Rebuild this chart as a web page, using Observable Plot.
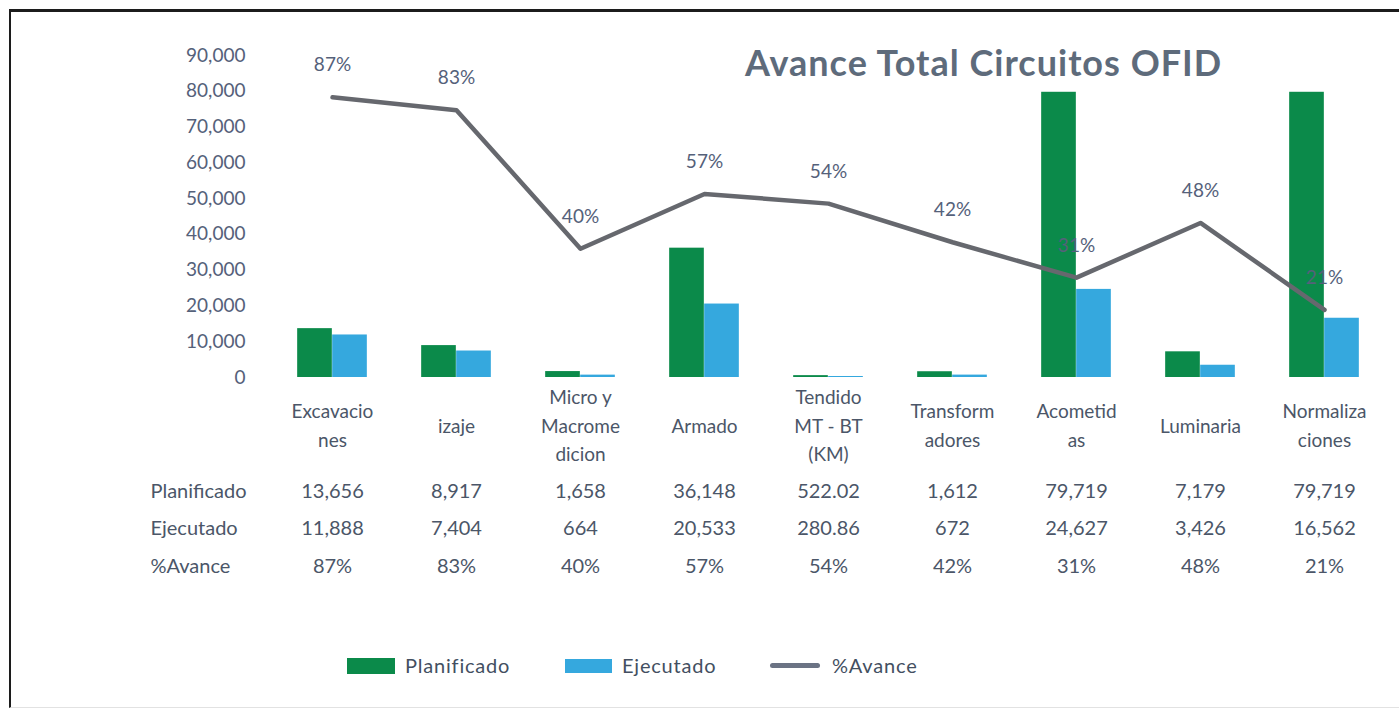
<!DOCTYPE html>
<html><head><meta charset="utf-8">
<script src="https://cdn.jsdelivr.net/npm/d3@7"></script>
<script src="https://cdn.jsdelivr.net/npm/@observablehq/plot@0.6"></script>
<style>
body{margin:0;background:#fff;font-family:Lato,"Open Sans",sans-serif;}
#wrap{position:relative;width:1399px;height:708px;overflow:hidden;background:#fff;}
#frame{position:absolute;left:9px;top:9px;width:1400px;height:695px;border-top:3px solid #1c1c1c;border-left:2px solid #1c1c1c;border-bottom:1px solid #e2e2e2;pointer-events:none;}
#chart{position:absolute;left:0;top:0;}
#title{position:absolute;left:745px;top:40px;font-size:36px;font-weight:700;letter-spacing:1px;color:#5e6b7b;white-space:nowrap;}
.lg{position:absolute;font-size:20px;letter-spacing:0.8px;color:#434f61;line-height:22px;top:654px;}
.sw{position:absolute;}
</style></head>
<body>
<div id="wrap">
  <div id="chart"></div>
  <div id="title">Avance Total Circuitos OFID</div>
  <div class="sw" style="left:347px;top:658px;width:48px;height:16px;background:#0b8a4a"></div>
  <div class="lg" style="left:405px">Planificado</div>
  <div class="sw" style="left:565px;top:659px;width:47px;height:14px;background:#35a8de"></div>
  <div class="lg" style="left:622px">Ejecutado</div>
  <div class="sw" style="left:770px;top:663px;width:50px;height:5px;border-radius:3px;background:#6b7384"></div>
  <div class="lg" style="left:832px">%Avance</div>
  <div id="frame"></div>
</div>
<script>
const categories = ["Excavaciones","izaje","Micro y Macromedicion","Armado","Tendido MT - BT (KM)","Transformadores","Acometidas","Luminaria","Normalizaciones"];
const tickLabels = ["Excavacio\nnes","izaje","Micro y\nMacrome\ndicion","Armado","Tendido\nMT - BT\n(KM)","Transform\nadores","Acometid\nas","Luminaria","Normaliza\nciones"];
const planificado = [13656, 8917, 1658, 36148, 522.02, 1612, 79719, 7179, 79719];
const ejecutado = [11888, 7404, 664, 20533, 280.86, 672, 24627, 3426, 16562];
const avance = [87, 83, 40, 57, 54, 42, 31, 48, 21];
const yTicks = [0, 10000, 20000, 30000, 40000, 50000, 60000, 70000, 80000, 90000];
const rowLabels = ["Planificado", "Ejecutado", "%Avance"];

const rows = categories.map((c, i) => ({cat: c, label: tickLabels[i], plan: planificado[i], ejec: ejecutado[i], pct: avance[i]}));

const W = 1399, H = 640, ML = 268, MR = 12, MT = 55, MB = 263;
const bw = (W - ML - MR) / categories.length;
const barW = 35;
const green = "#0b8a4a", blue = "#35a8de", lineC = "#66686e", txt = "#55617a", txt2 = "#4b5668";
const secMax = 90000; // secondary axis: 100% aligned with 90,000
const fmtNum = v => Number.isInteger(v) ? d3.format(",")(v) : d3.format(".2f")(v);
const fs = 19;
const tbl = {fontSize: 20, fill: txt2, letterSpacing: "0.6px"};

const chart = Plot.plot({
  width: W, height: H,
  marginLeft: ML, marginRight: MR, marginTop: MT, marginBottom: MB,
  style: {fontFamily: "Lato, 'Open Sans', sans-serif", background: "transparent", overflow: "visible"},
  x: {type: "band", domain: categories, padding: 0, axis: null},
  y: {domain: [0, 90000], axis: null},
  marks: [
    Plot.axisY({ticks: yTicks, tickSize: 0, tickPadding: 23, tickFormat: d3.format(","), fontSize: fs, fill: txt, label: null}),
    Plot.barY(rows, {x: "cat", y: "plan", fill: green, insetLeft: bw / 2 - barW, insetRight: bw / 2}),
    Plot.barY(rows, {x: "cat", y: "ejec", fill: blue, insetLeft: bw / 2, insetRight: bw / 2 - barW}),
    Plot.lineY(rows, {x: "cat", y: d => d.pct / 100 * secMax, stroke: lineC, strokeWidth: 4.5, strokeLinejoin: "round"}),
    Plot.text(rows, {x: "cat", y: d => d.pct / 100 * secMax, text: d => d.pct + "%", dy: -32, fontSize: fs, fill: txt}),
    Plot.text(rows, {x: "cat", text: "label", frameAnchor: "bottom", dy: 46, lineAnchor: "middle", lineHeight: 1.5, fontSize: fs, letterSpacing: "1.2px", fill: txt2}),
    Plot.text(rows, {x: "cat", text: d => fmtNum(d.plan), frameAnchor: "bottom", dy: 120, ...tbl}),
    Plot.text(rows, {x: "cat", text: d => fmtNum(d.ejec), frameAnchor: "bottom", dy: 157, ...tbl}),
    Plot.text(rows, {x: "cat", text: d => d.pct + "%", frameAnchor: "bottom", dy: 195, ...tbl}),
    Plot.text([rowLabels[0]], {text: d => d, frameAnchor: "bottom-left", dx: -118, dy: 120, textAnchor: "start", ...tbl, letterSpacing: "1px"}),
    Plot.text([rowLabels[1]], {text: d => d, frameAnchor: "bottom-left", dx: -118, dy: 157, textAnchor: "start", ...tbl, letterSpacing: "1px"}),
    Plot.text([rowLabels[2]], {text: d => d, frameAnchor: "bottom-left", dx: -118, dy: 195, textAnchor: "start", ...tbl, letterSpacing: "1px"})
  ]
});
document.getElementById("chart").appendChild(chart);
</script>
</body></html>
